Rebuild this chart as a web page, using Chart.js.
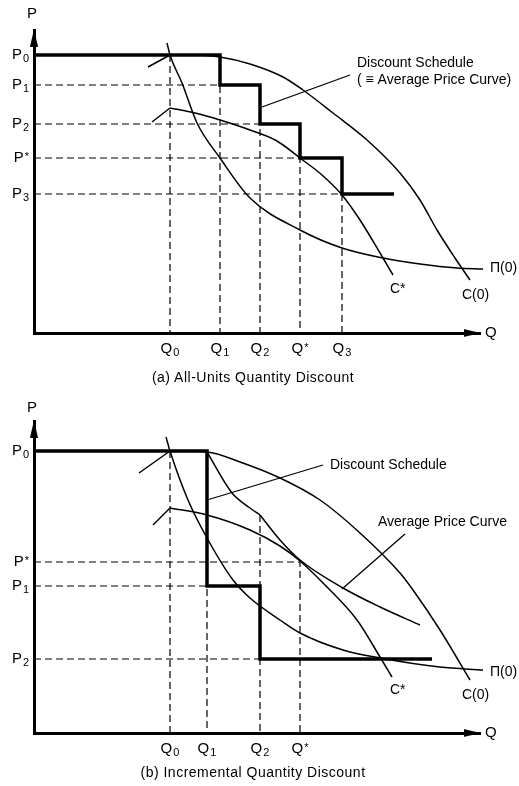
<!DOCTYPE html>
<html lang="en">
<head>
<meta charset="UTF-8">
<title>Quantity Discount</title>
<script src="https://cdn.jsdelivr.net/npm/chart.js@4.4.0/dist/chart.umd.min.js"></script>
<style>
  body { margin: 0; background: #fff; }
  .panel { position: relative; width: 519px; height: 393px; }
  .caption { position: absolute; left: 0; width: 506px; text-align: center;
    font: 14px "Liberation Sans", Arial, sans-serif; letter-spacing: 0.5px; color: #000; }
</style>
</head>
<body>
<div class="panel">
  <canvas id="chartA" width="519" height="393"></canvas>
  <div class="caption" style="top:369px">(a) All-Units Quantity Discount</div>
</div>
<div class="panel">
  <canvas id="chartB" width="519" height="393"></canvas>
  <div class="caption" style="top:371px">(b) Incremental Quantity Discount</div>
</div>
<script>
// ---- panel (a): all-units discount ----
const qA = [136, 186, 226, 266, 308];
const qNamesA = ['Q0', 'Q1', 'Q2', 'Q*', 'Q3'];
const pA = [278, 248, 209, 175, 139];
const pNamesA = ['P0', 'P1', 'P2', 'P*', 'P3'];
const stepEndA = 360;
const c0HookA = [[114, 266], [136, 278]];
const c0A = [[136, 278], [161, 278], [186, 276], [216, 269], [249, 256], [269, 243], [299, 220],
  [333, 193], [366, 160], [386, 133], [403, 103], [421, 75], [436, 53]];
const piA = [[133, 290], [136, 278], [148, 250], [163, 210], [186, 175], [216, 135], [266, 103],
  [308, 85], [349, 75], [386, 69], [423, 65], [449, 64]];
const cStarHookA = [[118, 211], [136, 225]];
const cStarA = [[136, 225], [161, 220], [186, 213], [216, 203], [243, 192], [266, 175], [288, 158],
  [308, 138], [326, 113], [349, 75], [359, 58]];
const pointerA = [[228, 226], [316, 258]];

// ---- panel (b): incremental discount ----
const qB = [136, 173, 226, 266];
const qNamesB = ['Q0', 'Q1', 'Q2', 'Q*'];
const pB = [282, 171, 147, 74];
const pNamesB = ['P0', 'P*', 'P1', 'P2'];
const stepEndB = 398;
const kinkB = 218;
const c0HookB = [[105, 260], [136, 282]];
const c0B = [[136, 282], [173, 281], [206, 271], [246, 255], [286, 233], [326, 200], [366, 160],
  [379, 143], [406, 103], [436, 53]];
const piB = [[132, 296], [136, 282], [154, 233], [173, 195], [199, 153], [216, 135], [246, 113],
  [266, 100], [309, 83], [346, 75], [406, 66], [449, 63]];
const cStarHookB = [[119, 208], [136, 225]];
const cStarB = [[136, 225], [173, 218], [216, 203], [246, 187], [266, 172], [289, 150], [323, 113],
  [346, 76], [358, 56]];
const avgPriceB1 = [[173, 281], [198, 240], [216, 225], [226, 218]];
const avgPriceB2 = [[226, 218], [246, 193], [266, 173], [309, 145], [346, 126], [386, 108]];
const pointerB1 = [[173, 233], [289, 268]];
const pointerB2 = [[308, 144], [371, 199]];

const FONT = '"Liberation Sans", Arial, Helvetica, sans-serif';
Chart.defaults.font.family = FONT;
Chart.defaults.color = '#000';

// arrow head used as point style
const arrowImg = document.createElement('canvas');
arrowImg.width = 8; arrowImg.height = 17;
(function () {
  const c = arrowImg.getContext('2d');
  c.fillStyle = '#000';
  c.beginPath(); c.moveTo(4, 0); c.lineTo(8, 17); c.lineTo(0, 17); c.closePath(); c.fill();
})();

const pts = arr => arr.map(([x, y]) => ({ x, y }));

function curve(arr) {
  return { data: pts(arr), borderColor: '#000', borderWidth: 1.5, pointRadius: 0,
    cubicInterpolationMode: 'monotone', clip: false };
}
function straight(arr, width) {
  return { data: pts(arr), borderColor: '#000', borderWidth: width || 1.5, pointRadius: 0,
    tension: 0, clip: false };
}
function dashed(lines) {
  const d = [];
  lines.forEach(l => {
    l.forEach(([x, y]) => d.push({ x, y }));
    d.push({ x: l[l.length - 1][0], y: null });
  });
  return { data: d, borderColor: '#000', borderWidth: 1.2, borderDash: [7, 4], pointRadius: 0,
    tension: 0, spanGaps: false, clip: false };
}
function schedule(qs, ps, endX) {
  const d = [[0, ps[0]]];
  for (let i = 1; i < qs.length; i++) d.push([qs[i], ps[i]]);
  d.push([endX, ps[ps.length - 1]]);
  return { data: pts(d), borderColor: '#000', borderWidth: 3.5, pointRadius: 0,
    stepped: 'before', clip: false };
}
function arrows(xMax, yMax) {
  return [
    { data: [{ x: 0, y: yMax - 8 }], pointStyle: arrowImg, pointRotation: 0, pointRadius: 8,
      showLine: false, clip: false },
    { data: [{ x: xMax - 8, y: 0 }], pointStyle: arrowImg, pointRotation: 90, pointRadius: 8,
      showLine: false, clip: false }
  ];
}

// letter with a lowered index (or a raised star)
function indexed(ctx, name, x, y, align) {
  const main = name[0], idx = name.slice(1);
  ctx.font = '15px ' + FONT;
  const w1 = ctx.measureText(main).width;
  ctx.font = '11px ' + FONT;
  const w2 = ctx.measureText(idx).width;
  let left = x;
  if (align === 'right') left = x - w1 - w2 - 1;
  if (align === 'center') left = x - (w1 + w2 + 1) / 2;
  ctx.textAlign = 'left';
  ctx.font = '15px ' + FONT;
  ctx.fillText(main, left, y);
  ctx.font = '11px ' + FONT;
  ctx.fillText(idx, left + w1 + 1, idx === '*' ? y - 1 : y + 4);
}

function notes(items, qNames, pNames) {
  return {
    id: 'notes',
    afterDraw(chart) {
      const { ctx, scales: { x, y } } = chart;
      ctx.save();
      ctx.fillStyle = '#000';
      ctx.textBaseline = 'middle';
      x.ticks.forEach((t, i) => indexed(ctx, qNames[i], x.getPixelForValue(t.value), x.top + 16, 'center'));
      y.ticks.forEach((t, i) => indexed(ctx, pNames[i], y.left + 29, y.getPixelForValue(t.value), 'right'));
      items.forEach(t => {
        ctx.font = (t.size || 14) + 'px ' + FONT;
        ctx.textAlign = t.align || 'left';
        ctx.fillText(t.text, x.getPixelForValue(t.x), y.getPixelForValue(t.y));
      });
      ctx.restore();
    }
  };
}

function makeScales(xMax, yMax, qs, ps, xHeight) {
  return {
    x: {
      type: 'linear', min: 0, max: xMax,
      border: { display: true, color: '#000', width: 3 },
      grid: { display: false, drawTicks: false },
      afterBuildTicks: s => { s.ticks = qs.map(v => ({ value: v })); },
      afterFit: s => { s.height = xHeight; },
      ticks: { display: false, autoSkip: false }
    },
    y: {
      type: 'linear', min: 0, max: yMax,
      border: { display: true, color: '#000', width: 3 },
      grid: { display: false, drawTicks: false },
      afterBuildTicks: s => { s.ticks = ps.map(v => ({ value: v })); },
      afterFit: s => { s.width = 34; },
      ticks: { display: false, autoSkip: false }
    }
  };
}

function baseOptions(top, scales) {
  return {
    responsive: false, animation: false, events: [],
    layout: { padding: { top: top, right: 39, left: 0, bottom: 0 } },
    plugins: { legend: { display: false }, tooltip: { enabled: false } },
    scales: scales
  };
}

// panel (a)
const xMaxA = 446, yMaxA = 303;
const guidesA = [[[qA[0], pA[0]], [qA[0], 0]]];
for (let i = 1; i < qA.length; i++) guidesA.push([[0, pA[i]], [qA[i], pA[i]], [qA[i], 0]]);

new Chart(document.getElementById('chartA'), {
  type: 'line',
  data: {
    datasets: [
      schedule(qA, pA, stepEndA),
      dashed(guidesA),
      straight(c0HookA), curve(c0A),
      curve(piA),
      straight(cStarHookA), curve(cStarA),
      straight(pointerA, 1.3),
      ...arrows(xMaxA, yMaxA)
    ]
  },
  options: baseOptions(30, makeScales(xMaxA, yMaxA, qA, pA, 60)),
  plugins: [notes([
    { text: 'P', x: -2, y: 319, align: 'center', size: 15 },
    { text: 'Q', x: 451, y: 0, size: 15 },
    { text: 'Discount Schedule', x: 323, y: 270 },
    { text: '( ≡ Average Price Curve)', x: 323, y: 253 },
    { text: 'Π(0)', x: 456, y: 65 },
    { text: 'C*', x: 356, y: 44 },
    { text: 'C(0)', x: 428, y: 38 }
  ], qNamesA, pNamesA)]
});

// panel (b)
const xMaxB = 446, yMaxB = 312;
const guidesB = [
  [[qB[0], pB[0]], [qB[0], 0]],
  [[0, pB[2]], [qB[1], pB[2]], [qB[1], 0]],
  [[0, pB[3]], [qB[2], pB[3]]],
  [[qB[2], kinkB], [qB[2], 0]],
  [[0, pB[1]], [qB[3], pB[1]], [qB[3], 0]]
];

new Chart(document.getElementById('chartB'), {
  type: 'line',
  data: {
    datasets: [
      schedule([0, qB[1], qB[2]], [pB[0], pB[2], pB[3]], stepEndB),
      dashed(guidesB),
      straight(c0HookB), curve(c0B),
      curve(piB),
      straight(cStarHookB), curve(cStarB),
      curve(avgPriceB1), curve(avgPriceB2),
      straight(pointerB1, 1.3), straight(pointerB2, 1.3),
      ...arrows(xMaxB, yMaxB)
    ]
  },
  options: baseOptions(28, makeScales(xMaxB, yMaxB, qB, pB, 53)),
  plugins: [notes([
    { text: 'P', x: -2, y: 325, align: 'center', size: 15 },
    { text: 'Q', x: 451, y: 0, size: 15 },
    { text: 'Discount Schedule', x: 296, y: 268 },
    { text: 'Average Price Curve', x: 344, y: 211 },
    { text: 'Π(0)', x: 456, y: 61 },
    { text: 'C*', x: 356, y: 43 },
    { text: 'C(0)', x: 428, y: 38 }
  ], qNamesB, pNamesB)]
});
</script>
</body>
</html>
